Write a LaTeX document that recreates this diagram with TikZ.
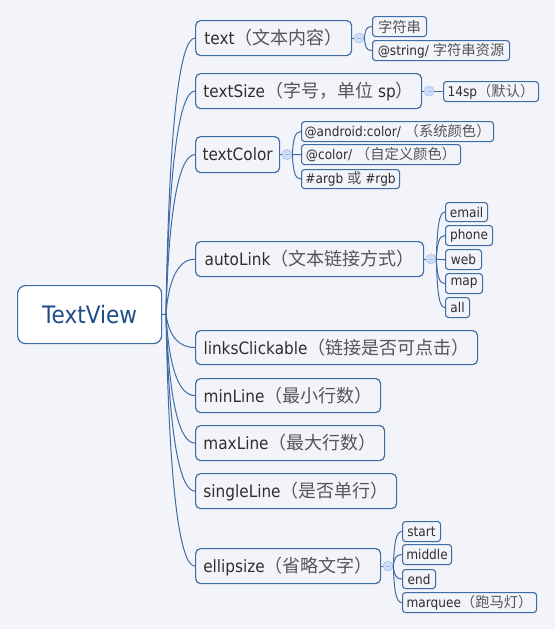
\documentclass[tikz,border=0pt]{standalone}
\usepackage{fontspec}
\setmainfont{DejaVu Sans}[FakeStretch=0.9]
\newfontfamily\zhfont{Noto Sans CJK SC}[Scale=1.06]
\usetikzlibrary{calc}
\definecolor{bg}{HTML}{F3F4F9}
\definecolor{bd}{HTML}{3E6DA5}
\definecolor{tx}{HTML}{2E2E2E}
\definecolor{zhc}{HTML}{555555}
\definecolor{rt}{HTML}{1E4C8A}
\definecolor{togfill}{HTML}{CFDFF7}
\definecolor{togline}{HTML}{A4BFE8}
\newcommand\zh[1]{{\zhfont\color{zhc}#1}}
\newcommand\brA[2]{\draw[link] (#1) .. controls ($(#1|-#2.west)!0.3!(#1)+(3,0)$) and ($(#2.west)+(-15,0)$) .. (#2.west);}
\newcommand\brB[2]{\draw[link] (#1) .. controls ($(#1|-#2.west)!0.3!(#1)+(1,0)$) and ($(#2.west)+(-6,0)$) .. (#2.west);}
\begin{document}
\begin{tikzpicture}[x=1pt,y=-1pt,
  rootbox/.style={draw=bd, line width=1.2pt, fill=white, rounded corners=8pt, anchor=north west, inner sep=0pt, font=\fontsize{24}{28}\selectfont, text=rt},
  l1/.style={draw=bd, line width=1.2pt, fill=bg, rounded corners=5pt, anchor=north west, inner sep=0pt, font=\fontsize{17}{20}\selectfont, text=tx},
  l2/.style={draw=bd, line width=1.1pt, fill=bg, rounded corners=3pt, anchor=north west, inner sep=0pt, font=\fontsize{13.5}{16}\selectfont, text=tx},
  link/.style={draw=bd, line width=1pt},
  tog/.style={circle, draw=togline, fill=togfill, line width=0.6pt, minimum size=10pt, inner sep=0pt, anchor=west,
    path picture={\draw[togline, line width=0.8pt] ($(path picture bounding box.west)+(2.5pt,0)$) -- ($(path picture bounding box.east)+(-2.5pt,0)$);}}
]
\fill[bg] (0,0) rectangle (555,629);
\useasboundingbox (0,0) rectangle (555,629);

% root
\node[rootbox, minimum width=144pt, minimum height=58pt] (root) at (17,285) {TextView};
\coordinate (hub) at (166,314);
\draw[link] (root.east) -- (hub);

% level 1
\node[l1, minimum width=156pt, minimum height=35pt] (text) at (195,20) {text\zh{（文本内容）}};
\node[l1, minimum width=226pt, minimum height=35pt] (tsize) at (195,73) {textSize\zh{（字号，单位} sp\zh{）}};
\node[l1, minimum width=84pt, minimum height=36pt] (tcolor) at (195,136) {textColor};
\node[l1, minimum width=228pt, minimum height=35pt] (alink) at (195,241) {autoLink\zh{（文本链接方式）}};
\node[l1, minimum width=282pt, minimum height=34pt] (lclick) at (195,330) {linksClickable\zh{（链接是否可点击）}};
\node[l1, minimum width=185pt, minimum height=34pt] (minl) at (195,378) {minLine\zh{（最小行数）}};
\node[l1, minimum width=189pt, minimum height=35pt] (maxl) at (195,425) {maxLine\zh{（最大行数）}};
\node[l1, minimum width=201pt, minimum height=35pt] (singl) at (195,473) {singleLine\zh{（是否单行）}};
\node[l1, minimum width=185pt, minimum height=35pt] (ellip) at (195,548) {ellipsize\zh{（省略文字）}};

\foreach \n in {text,tsize,tcolor,alink,lclick,minl,maxl,singl,ellip} {\brA{hub}{\n}}

% toggles
\node[tog] (t1) at ($(text.east)+(1.5,0)$) {};
\node[tog] (t2) at ($(tsize.east)+(1.5,0)$) {};
\node[tog] (t3) at ($(tcolor.east)+(1.5,0)$) {};
\node[tog] (t4) at ($(alink.east)+(1.5,0)$) {};
\node[tog] (t5) at ($(ellip.east)+(1.5,0)$) {};
\draw[link] (text.east) -- (t1.west);
\draw[link] (tsize.east) -- (t2.west);
\draw[link] (tcolor.east) -- (t3.west);
\draw[link] (alink.east) -- (t4.west);
\draw[link] (ellip.east) -- (t5.west);

% level 2: text
\node[l2, minimum width=54pt, minimum height=20pt] (s1) at (372,16) {\zh{字符串}};
\node[l2, minimum width=137pt, minimum height=20pt] (s2) at (372,40) {@string/ \zh{字符串资源}};
\brB{t1.east}{s1}
\brB{t1.east}{s2}

% textSize
\node[l2, minimum width=95pt, minimum height=20pt] (d1) at (443,81) {14sp\zh{（默认）}};
\draw[link] (t2.east) -- (t2.east-|d1.west);

% textColor
\node[l2, minimum width=192pt, minimum height=20pt] (c1) at (301,121) {@android:color/ \zh{（系统颜色）}};
\node[l2, minimum width=159pt, minimum height=20pt] (c2) at (301,144) {@color/ \zh{（自定义颜色）}};
\node[l2, minimum width=98pt, minimum height=19pt] (c3) at (301,169) {\#argb \zh{或} \#rgb};
\foreach \n in {c1,c2,c3} {\brB{t3.east}{\n}}

% autoLink
\node[l2, minimum width=42pt, minimum height=19pt] (a1) at (445,202) {email};
\node[l2, minimum width=47pt, minimum height=20pt] (a2) at (445,225) {phone};
\node[l2, minimum width=36pt, minimum height=20pt] (a3) at (445,249) {web};
\node[l2, minimum width=37pt, minimum height=20pt] (a4) at (445,273) {map};
\node[l2, minimum width=24pt, minimum height=20pt] (a5) at (445,297) {all};
\foreach \n in {a1,a2,a3,a4,a5} {\brB{t4.east}{\n}}

% ellipsize
\node[l2, minimum width=38pt, minimum height=20pt] (e1) at (402,521) {start};
\node[l2, minimum width=49pt, minimum height=20pt] (e2) at (402,544) {middle};
\node[l2, minimum width=33pt, minimum height=19pt] (e3) at (402,569) {end};
\node[l2, minimum width=134pt, minimum height=20pt] (e4) at (402,592) {marquee\zh{（跑马灯）}};
\foreach \n in {e1,e2,e3,e4} {\brB{t5.east}{\n}}
\end{tikzpicture}
\end{document}
